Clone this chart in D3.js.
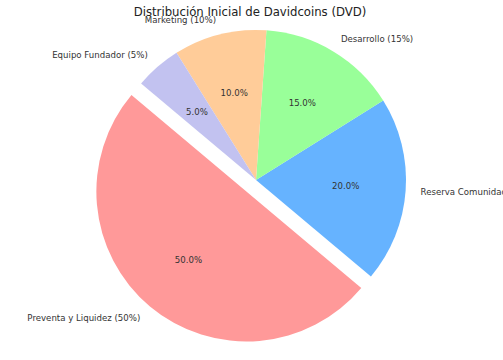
<!DOCTYPE html>
<html><head><meta charset="utf-8">
<script src="https://cdn.jsdelivr.net/npm/d3@7"></script>
<style>body{margin:0;background:#fff}svg{display:block;font-family:"DejaVu Sans",sans-serif}</style>
</head><body>
<svg id="c" width="503" height="360"></svg>
<script>
const labels = ["Preventa y Liquidez (50%)","Reserva Comunidad (20%)","Desarrollo (15%)","Marketing (10%)","Equipo Fundador (5%)"];
const values = [50,20,15,10,5];
const colors = ["#ff9999","#66b3ff","#99ff99","#ffcc99","#c2c2f0"];
const explode = [0.1,0,0,0,0];
const title = "Distribución Inicial de Davidcoins (DVD)";

const svg = d3.select("#c");
const cx = 256, cy = 180, r = 150;
const startDeg = 140; // matplotlib startangle
const a0 = (90 - startDeg) * Math.PI/180;
const pie = d3.pie().sort(null).value(d=>d).startAngle(a0).endAngle(a0 - 2*Math.PI);
const arcs = pie(values);
const arc = d3.arc().innerRadius(0).outerRadius(r);
const g = svg.append("g").attr("transform",`translate(${cx},${cy})`);
arcs.forEach((a,i)=>{
  const mid = (a.startAngle + a.endAngle)/2;
  const ox = Math.sin(mid)*explode[i]*r, oy = -Math.cos(mid)*explode[i]*r;
  const gg = g.append("g").attr("transform",`translate(${ox},${oy})`);
  gg.append("path").attr("d", arc(a)).attr("fill", colors[i]);
  const lx = Math.sin(mid)*r*1.1, ly = -Math.cos(mid)*r*1.1;
  gg.append("text").attr("x",lx).attr("y",ly).attr("dy","0.35em")
    .attr("text-anchor", lx>0?"start":"end").attr("font-size",8.6).attr("fill","#333")
    .text(labels[i]);
  const px = Math.sin(mid)*r*0.6, py = -Math.cos(mid)*r*0.6;
  gg.append("text").attr("x",px).attr("y",py).attr("dy","0.35em")
    .attr("text-anchor","middle").attr("font-size",8.6).attr("fill","#333")
    .text(d3.format(".1f")(values[i]/d3.sum(values)*100)+"%");
});
svg.append("text").attr("x",250).attr("y",16).attr("text-anchor","middle")
  .attr("font-size",11.7).attr("fill","#222").text(title);
</script>
</body></html>
